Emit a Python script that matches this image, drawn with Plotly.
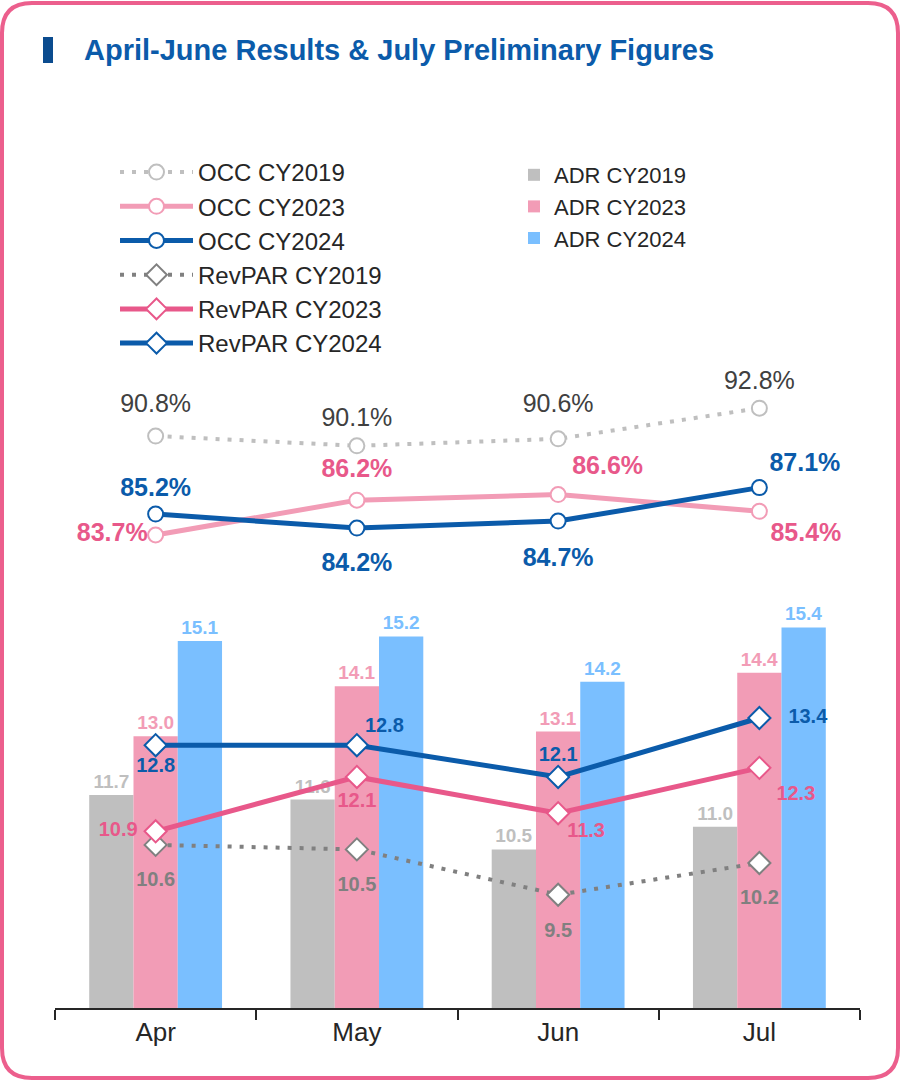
import plotly.graph_objects as go

months = ["Apr", "May", "Jun", "Jul"]
adr_2019 = [11.7, 11.6, 10.5, 11.0]
adr_2023 = [13.0, 14.1, 13.1, 14.4]
adr_2024 = [15.1, 15.2, 14.2, 15.4]
occ_2019 = [90.8, 90.1, 90.6, 92.8]
occ_2023 = [83.7, 86.2, 86.6, 85.4]
occ_2024 = [85.2, 84.2, 84.7, 87.1]
revpar_2019 = [10.6, 10.5, 9.5, 10.2]
revpar_2023 = [10.9, 12.1, 11.3, 12.3]
revpar_2024 = [12.8, 12.8, 12.1, 13.4]

FONT = "Liberation Sans, Arial, sans-serif"
GRAY = "#BFBFBF"
DGRAY = "#808080"
PINK = "#F29CB6"
HOT = "#E8588A"
LBLUE = "#7ABFFF"
NAVY = "#0B5BAA"

W, H = 900, 1081
L, R, T, B = 55, 40, 380, 73
PW, PH = W - L - R, H - T - B


def px(x):
    return (x - L) / PW


def py(y):
    return (H - B - y) / PH


fig = go.Figure()

# ADR bars
bar_specs = [("ADR CY2019", adr_2019, GRAY), ("ADR CY2023", adr_2023, PINK), ("ADR CY2024", adr_2024, LBLUE)]
for name, vals, col in bar_specs:
    fig.add_trace(go.Bar(
        x=months, y=vals, name=name, marker=dict(color=col, line=dict(width=0)),
        text=[f"{v:.1f}" for v in vals], textposition="outside", cliponaxis=False,
        textfont=dict(family=FONT, size=19, color=col, weight="bold"),
        legend="legend2", legendgroup=name, yaxis="y", hoverinfo="skip",
    ))

DOT = "4px,8px"

# OCC lines (secondary axis)
occ_specs = [
    ("OCC CY2019", occ_2019, GRAY, "#404040", DOT, 4, GRAY, "normal",
     ["top center"] * 4, [26.8, 20.4, 31.6, 18.8]),
    ("OCC CY2023", occ_2023, PINK, HOT, "solid", 5, PINK, "bold",
     ["middle left", "top center", "top right", "bottom right"], [11.2, 25.2, 20.8, 16]),
    ("OCC CY2024", occ_2024, NAVY, NAVY, "solid", 5, NAVY, "bold",
     ["top center", "bottom center", "bottom center", "top right"], [17.2, 37.2, 40.4, 14.4]),
]
# RevPAR lines (primary axis)
rev_specs = [
    ("RevPAR CY2019", revpar_2019, DGRAY, DGRAY, DOT, 4, DGRAY, "bold",
     ["bottom center"] * 4, [40.3, 40.3, 41.9, 40.3]),
    ("RevPAR CY2023", revpar_2023, HOT, HOT, "solid", 5, HOT, "bold",
     ["middle left", "bottom center", "bottom right", "bottom right"], [27.2, 22.7, 12.8, 25.6]),
    ("RevPAR CY2024", revpar_2024, NAVY, NAVY, "solid", 5, NAVY, "bold",
     ["bottom center", "top right", "top center", "middle right"], [17.9, 11.2, 15.7, 44.8]),
]

label_traces = []
for specs, sym, msize, axis, fs, fmt in [(occ_specs, "circle", 15, "y2", 25, "{:.1f}%"),
                                          (rev_specs, "diamond", 17, "y", 20, "{:.1f}")]:
    for name, vals, col, tcol, dash, lw, mcol, wt, tpos, offs in specs:
        fig.add_trace(go.Scatter(
            x=months, y=vals, name=name, mode="lines+markers",
            line=dict(color=col, width=lw, dash=dash),
            marker=dict(symbol=sym, size=msize, color="white", line=dict(color=mcol, width=2)),
            cliponaxis=False, legend="legend", legendgroup=name, yaxis=axis, hoverinfo="skip",
        ))
        # value labels (transparent marker sizes only control label offsets)
        label_traces.append(go.Scatter(
            x=months, y=vals, mode="markers+text", showlegend=False,
            marker=dict(size=offs, color="rgba(0,0,0,0)", line=dict(width=0)),
            text=[fmt.format(v) for v in vals], textposition=tpos,
            textfont=dict(family=FONT, size=fs, color=tcol, weight=wt),
            cliponaxis=False, yaxis=axis, hoverinfo="skip",
        ))
for tr in label_traces:
    fig.add_trace(tr)

# rounded border
x0, x1, y0, y1, r = px(2), px(898), py(3), py(1078), 30
rx, ry = r / PW, r / PH
path = (f"M{x0+rx},{y0} L{x1-rx},{y0} Q{x1},{y0} {x1},{y0-ry} "
        f"L{x1},{y1+ry} Q{x1},{y1} {x1-rx},{y1} L{x0+rx},{y1} Q{x0},{y1} {x0},{y1+ry} "
        f"L{x0},{y0-ry} Q{x0},{y0} {x0+rx},{y0} Z")
shapes = [
    dict(type="path", xref="paper", yref="paper", path=path, line=dict(color="#EC5F8D", width=4),
         layer="below"),
    dict(type="rect", xref="paper", yref="paper", x0=px(43), x1=px(53), y0=py(37), y1=py(63),
         fillcolor="#0B4C8F", line=dict(width=0)),
]

fig.update_layout(
    width=W, height=H, margin=dict(l=L, r=R, t=T, b=B),
    paper_bgcolor="white", plot_bgcolor="white",
    barmode="group", bargap=0.34, bargroupgap=0,
    font=dict(family=FONT, color="#262626"),
    showlegend=True, hovermode=False,
    xaxis=dict(type="category", range=[-0.5, 3.5], showline=True, linecolor="#262626", linewidth=2,
               ticks="outside", tickson="boundaries", ticklen=10, tickwidth=2, tickcolor="#262626",
               tickfont=dict(family=FONT, size=26, color="#262626"), showgrid=False, zeroline=False),
    yaxis=dict(range=[7, 20.86], visible=False, showgrid=False, zeroline=False),
    yaxis2=dict(range=[49.77, 94.82], overlaying="y", visible=False, showgrid=False, zeroline=False),
    legend=dict(x=px(115), y=py(150), xanchor="left", yanchor="top", traceorder="grouped",
                tracegroupgap=0, font=dict(family=FONT, size=24, color="#262626"),
                bgcolor="rgba(0,0,0,0)", itemwidth=73),
    legend2=dict(x=px(514), y=py(154), xanchor="left", yanchor="top", traceorder="grouped",
                 tracegroupgap=0, font=dict(family=FONT, size=22, color="#262626"),
                 bgcolor="rgba(0,0,0,0)"),
    shapes=shapes,
    annotations=[dict(text="<b>April-June Results &amp; July Preliminary Figures</b>", xref="paper", yref="paper",
                      x=px(82), y=py(50), xanchor="left", yanchor="middle", showarrow=False,
                      font=dict(family=FONT, size=29, color="#0B5BAA"))],
)

fig.write_html("out.html", config={"displayModeBar": False},
               post_script="document.body.style.margin='0';")
